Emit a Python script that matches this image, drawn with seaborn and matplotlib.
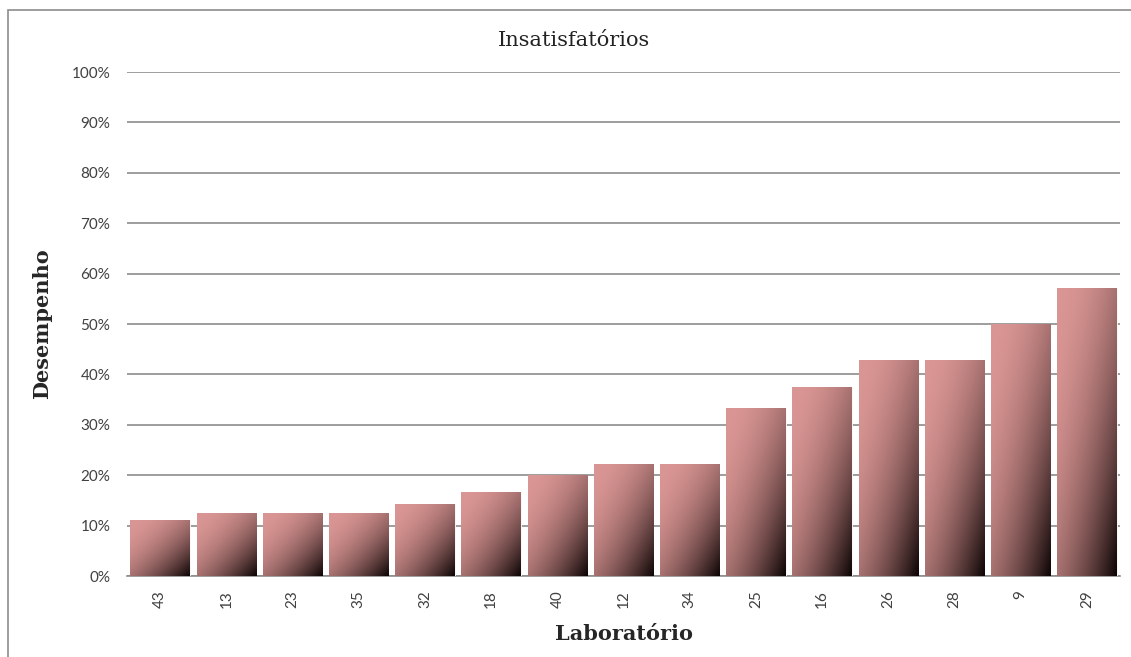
import numpy as np
import pandas as pd
import seaborn as sns
import matplotlib.pyplot as plt
from matplotlib.ticker import PercentFormatter
from matplotlib.patches import Rectangle

labs = ["43", "13", "23", "35", "32", "18", "40", "12", "34", "25", "16", "26", "28", "9", "29"]
vals = [0.111, 0.125, 0.125, 0.125, 0.143, 0.167, 0.20, 0.222, 0.222, 0.333, 0.375, 0.429, 0.429, 0.50, 0.571]

df = pd.DataFrame({"lab": labs, "desempenho": vals})

sns.set_style("white")
plt.rcParams['font.family'] = ['Lato', 'DejaVu Sans']

fig = plt.figure(figsize=(11.31, 6.57), dpi=100)
ax = fig.add_axes([127/1131, 1 - 576/657, (1120-127)/1131, (576-72)/657])

sns.barplot(data=df, x="lab", y="desempenho", order=labs, color="#da9694",
            width=0.9, edgecolor="white", linewidth=0.6, ax=ax, zorder=3)

# diagonal gradient fill, pink top-left -> black bottom-right
pink = np.array([218, 150, 148]) / 255
dark = np.array([12, 4, 4]) / 255
n = 100
u = np.linspace(0, 1, n)
uu, vv = np.meshgrid(u, u)
t = ((uu + vv) / 2) ** 2
grad = pink[None, None, :] * (1 - t[..., None]) + dark[None, None, :] * t[..., None]

for p in ax.patches:
    x0, y0, w, h = p.get_x(), p.get_y(), p.get_width(), p.get_height()
    im = ax.imshow(grad, extent=[x0, x0 + w, y0, y0 + h], aspect="auto",
                   zorder=3.5, interpolation="bilinear")
    im.set_clip_path(p)

ax.set_xlim(-0.5, len(labs) - 0.5)
ax.set_ylim(0, 1)
ax.yaxis.set_major_formatter(PercentFormatter(1.0, decimals=0))
ax.set_yticks(np.arange(0, 1.01, 0.1))
ax.grid(axis="y", color="#8c8c8c", linewidth=1.2, zorder=0)
ax.set_axisbelow(True)
for s in ["top", "right", "left"]:
    ax.spines[s].set_visible(False)
ax.spines["bottom"].set_color("#8c8c8c")
ax.spines["bottom"].set_linewidth(1.2)
ax.tick_params(axis="y", labelsize=11, length=0, pad=12, colors="#404040")
ax.tick_params(axis="x", labelsize=11, length=0, pad=10, rotation=90, colors="#404040")

ax.set_xlabel("Laboratório", fontsize=15, fontweight="bold", family="DejaVu Serif", labelpad=12)
ax.set_ylabel("Desempenho", fontsize=15, fontweight="bold", family="DejaVu Serif", labelpad=14)
fig.text(574/1131, 1 - 40/657, "Insatisfatórios", fontsize=15, family="DejaVu Serif",
         ha="center", va="center", color="#222222")

fig.patches.append(Rectangle((8/1131, -0.05), 2, 1.05 - 10/657, transform=fig.transFigure,
                             fill=False, edgecolor="#8c8c8c", linewidth=1.2))

fig.savefig("out.png", dpi=100)
